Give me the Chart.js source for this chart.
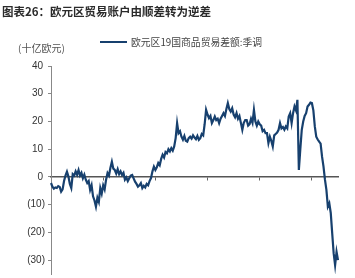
<!DOCTYPE html>
<html>
<head>
<meta charset="utf-8">
<script src="https://cdn.jsdelivr.net/npm/chart.js@4.4.1/dist/chart.umd.min.js"></script>
<style>
  html, body { margin: 0; padding: 0; background: #fff; }
  #wrap { position: relative; width: 355px; height: 278px; overflow: hidden; }
  #chart { position: absolute; left: 0; top: 0; }
  .txt { position: absolute; white-space: nowrap; font-family: "Noto Sans CJK SC", "Noto Sans", sans-serif; }
  #title { left: 2px; top: 3px; font-size: 11.5px; font-weight: bold; color: #2b2b2b; }
  #unit { left: 18px; top: 40px; font-size: 10px; color: #555; }
  #legend { left: 100px; top: 35px; font-size: 9.8px; color: #444; }
  #legend i { display: inline-block; width: 27px; height: 2px; background: #17406e; vertical-align: middle; margin-right: 4px; position: relative; top: -1px; }
</style>
</head>
<body>
<div id="wrap">
  <canvas id="chart" width="355" height="278"></canvas>
  <div class="txt" id="title">图表26：欧元区贸易账户由顺差转为逆差</div>
  <div class="txt" id="unit">(十亿欧元)</div>
  <div class="txt" id="legend"><i></i>欧元区19国商品贸易差额:季调</div>
</div>
<script>
var seriesName = '欧元区19国商品贸易差额:季调';
var startYear = 2006;

// 月度贸易差额（十亿欧元），2006-01 起
var tradeBalance = [
  -2.2, -3.5, -4.2, -3.8, -4.0, -3.3, -3.6, -5.3, -4.5, -1.5, 0.5, 1.9,
  0.2, -2.5, -4.0, 1.0, 0.5, 2.0, 0.8, 2.5, 0.5, 1.5, -0.5, 0.8,
  -1.0, -2.2, -1.5, -4.7, -3.0, -7.0, -8.5, -10.7, -7.5, -9.0, -4.0, -6.0,
  -3.0, -4.5, -1.0, 1.4, 0.5, 3.3, 5.5, 3.0, 2.5, 1.2, 2.8, 1.0,
  2.0, 0.7, 1.5, -1.0, -0.2, -1.5, -0.5, 0.5, 0.7, -0.5, -1.7, -2.5,
  -3.5, -3.0, -2.2, -4.0, -3.2, -3.8, -2.5, -3.0, -1.5, -0.4, 2.0, 3.7,
  2.5, 3.5, 5.0, 4.2, 6.5, 8.0, 7.0, 9.0, 8.5, 10.0, 9.2, 10.4,
  9.5, 11.0, 14.0, 19.4, 15.8, 16.5, 14.5, 13.4, 14.8, 13.0, 12.7, 14.0,
  14.5, 13.8, 15.0, 14.2, 13.6, 14.8, 13.4, 14.0, 15.5, 15.0, 19.0, 24.2,
  22.5, 21.2, 22.0, 19.4, 20.5, 21.8, 20.5, 21.0, 19.4, 21.0, 22.0, 23.0,
  22.0, 24.5, 26.6, 24.5, 23.6, 24.8, 22.5, 21.5, 23.0, 21.0, 22.0, 19.5,
  17.0, 19.5, 20.5, 20.5, 18.5, 19.0, 21.0, 19.5, 24.2, 20.0, 18.5, 20.0,
  19.0, 18.5, 16.5, 17.0, 15.8, 15.8, 12.2, 14.5, 13.0, 11.0, 15.0, 15.5,
  16.0, 17.0, 19.4, 17.5, 18.0, 17.0, 18.2, 17.5, 21.8, 23.0, 19.4, 23.0,
  25.4, 24.0, 27.8, 2.5, 10.0, 17.0, 20.0, 22.0, 23.0, 25.4, 26.0, 26.8,
  26.6, 24.0, 18.2, 14.5, 13.5, 12.7, 12.0, 7.3, 3.7, -1.0, -4.7, -10.7,
  -9.5, -13.0, -20.3, -27.5, -31.8, -27.0, -30.0
];

var yMin = -35;
var yMax = 40;
var yStep = 10;
var xTickEvery = 36;

var months = tradeBalance.map(function (v, i) {
  var y = startYear + Math.floor(i / 12);
  var m = (i % 12) + 1;
  return y + '-' + (m < 10 ? '0' + m : m);
});

function fmtTick(v) {
  if (v < 0) return '(' + Math.abs(v) + ')';
  return v + '\u2009';
}

var ctx = document.getElementById('chart').getContext('2d');
new Chart(ctx, {
  type: 'line',
  data: {
    labels: months,
    datasets: [{
      label: seriesName,
      data: tradeBalance,
      borderColor: '#17406e',
      borderWidth: 2.2,
      pointRadius: 0,
      tension: 0,
      fill: false
    }]
  },
  options: {
    responsive: false,
    animation: false,
    events: [],
    layout: { padding: { top: 66, right: 17, bottom: 4, left: 0 } },
    plugins: { legend: { display: false }, tooltip: { enabled: false } },
    scales: {
      x: {
        type: 'category',
        position: { y: 0 },
        offset: false,
        ticks: { display: false },
        grid: {
          drawOnChartArea: false,
          drawTicks: true,
          tickLength: 3,
          tickColor: function (c) {
            return (c.index > 0 && c.index % xTickEvery === 0) ? '#666' : 'rgba(0,0,0,0)';
          }
        },
        border: { display: true, color: '#555', width: 1.5 }
      },
      y: {
        min: yMin,
        max: yMax,
        afterBuildTicks: function (axis) {
          axis.ticks = axis.ticks.filter(function (t) { return t.value % yStep === 0; });
        },
        afterFit: function (s) {
          s.width = 51;
          s.paddingTop = 0;
          s.paddingBottom = 0;
        },
        ticks: {
          stepSize: yStep,
          color: '#333',
          padding: 3,
          font: { family: 'Liberation Sans, Arial, sans-serif', size: 10 },
          callback: function (v) { return fmtTick(v); }
        },
        grid: { drawOnChartArea: false, drawTicks: true, tickLength: 3, color: '#888' },
        border: { display: true, color: '#888', width: 1 }
      }
    }
  }
});
</script>
</body>
</html>
